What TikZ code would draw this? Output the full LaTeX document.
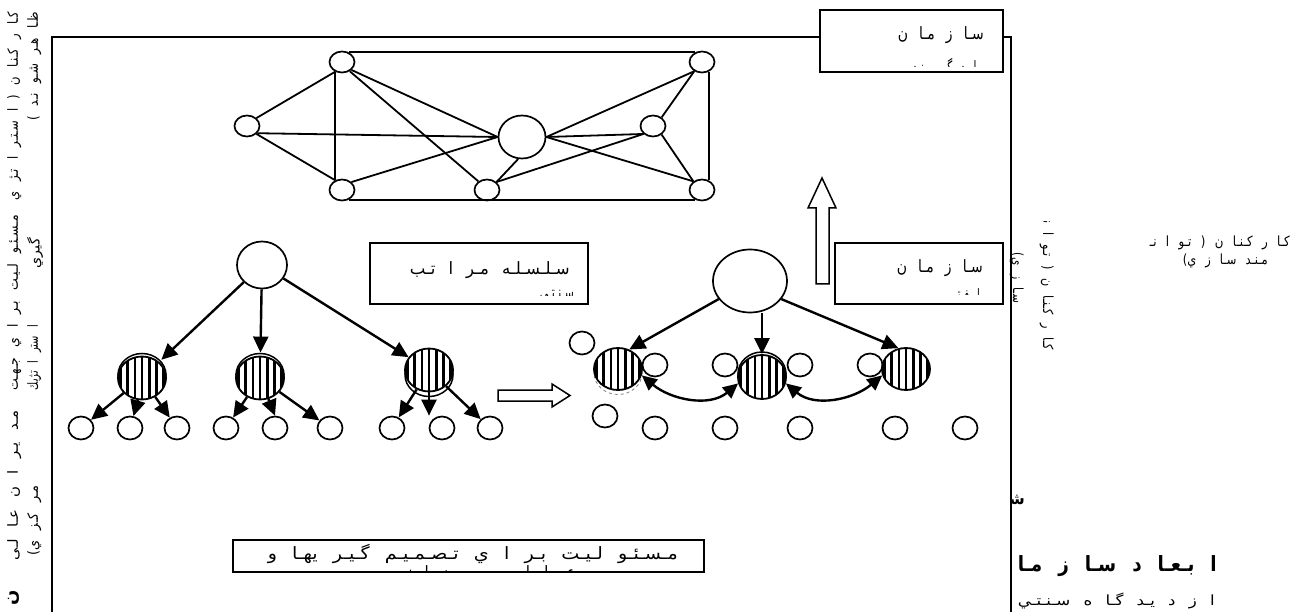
\documentclass[tikz,border=0pt]{standalone}
\usepackage{fontspec}
\usetikzlibrary{shapes.geometric,arrows.meta,calc}
\newfontfamily\arfont[Script=Arabic,WordSpace=2.5]{DejaVu Sans}
\TeXXeTstate=1
\newcommand{\wtxt}[2]{\resizebox{#1}{\height}{#2}}
\begin{document}
\begin{tikzpicture}[x=1pt,y=-1pt,
  netc/.style={ellipse,draw,line width=1.7pt,fill=white,inner sep=0pt,minimum width=25pt,minimum height=21pt},
  smc/.style={ellipse,draw,line width=1.7pt,fill=white,inner sep=0pt,minimum width=25pt,minimum height=23pt},
  bigc/.style={ellipse,draw,line width=1.7pt,fill=white,inner sep=0pt},
  stc/.style={ellipse,draw,line width=1.8pt,fill=white,inner sep=0pt,minimum width=48pt,minimum height=43pt,
    path picture={\foreach \k in {-3,...,3}{\fill[black] ($(path picture bounding box.center)+(\k*7.2-1.3,-30)$) rectangle ($(path picture bounding box.center)+(\k*7.2+1.3,30)$);}}},
  shd/.style={line width=1.5pt,fill=white},
  arr/.style={line width=2.4pt,-{Triangle[length=16pt,width=15pt]}},
  darr/.style={line width=2.4pt,{Triangle[length=15pt,width=14pt]}-{Triangle[length=15pt,width=14pt]}},
  netl/.style={line width=1.8pt},
  tbox/.style={draw,line width=1.6pt,fill=white,inner sep=0pt},
  at1/.style={font=\arfont\fontsize{17}{19}\selectfont,inner sep=0pt},
  vt/.style={font=\arfont\fontsize{14}{16}\selectfont,inner sep=0pt},
  bt/.style={font=\arfont\fontsize{21}{23}\selectfont\bfseries,inner sep=0pt}]
\useasboundingbox (0,0) rectangle (1301,612);
\clip (0,0) rectangle (1301,612);
\fill[white] (0,0) rectangle (1301,612);

% frame
\draw[line width=1.7pt] (52,612) -- (52,37) -- (820,37);
\draw[line width=1.7pt] (1003,37) -- (1011,37) -- (1011,612);

% ===== network =====
\node[netc] (TL) at (342,62) {};
\node[netc] (L) at (247,126) {};
\node[netc] (BL) at (342,190) {};
\node[bigc,minimum width=47pt,minimum height=43pt] (C) at (522,137) {};
\node[netc] (BM) at (487,190) {};
\node[netc] (R) at (653,126) {};
\node[netc] (TR) at (702,62) {};
\node[netc] (BR) at (702,190) {};
\draw[netl] (TL.55) -- (TR.125);
\draw[netl] (BL.-55) -- (BR.-125);
\draw[netl] (TL.-125) -- (BL.125);
\draw[netl] (TR.-55) -- (BR.55);
\draw[netl] (L.40) -- (TL.-125);
\draw[netl] (L.-40) -- (BL.125);
\draw[netl] (L.-35) -- (C.west);
\draw[netl] (TL.-40) -- (C.west);
\draw[netl] (TL.-50) -- (BM.135);
\draw[netl] (BL.40) -- (C.west);
\draw[netl] (C.-100) -- (BM.40);
\draw[netl] (BM.40) -- (R.-140);
\draw[netl] (C.east) -- (TR.-130);
\draw[netl] (C.east) -- (R.-140);
\draw[netl] (C.east) -- (BR.135);
\draw[netl] (R.45) -- (TR.-130);
\draw[netl] (R.-45) -- (BR.135);

% ===== left hierarchy =====
\node[bigc,minimum width=50pt,minimum height=47pt] (T1) at (262,265) {};
\coordinate (s1) at (142,378);
\coordinate (s2) at (260,378);
\coordinate (s3) at (429,370);
\draw[shd] ($(s1)+(0,-3)$) ellipse (24 and 21.5);
\draw[shd] ($(s2)+(0,-3)$) ellipse (24 and 21.5);
\draw[shd] ($(s3)+(0,5)$) ellipse (24 and 21.5);
\node[stc] (S1) at (s1) {};
\node[stc] (S2) at (s2) {};
\node[stc] (S3) at (s3) {};
\foreach \n/\x in {b1/81,b2/130,b3/177,b4/226,b5/275,b6/330,b7/392,b8/442,b9/490}
  \node[smc] (\n) at (\x,428) {};
\draw[arr,shorten >=3pt] (T1) -- (S1);
\draw[arr,shorten >=3pt] (T1) -- (S2);
\draw[arr] (T1) -- (S3);
\draw[arr] (S1) -- (b1);
\draw[arr] (S1.-100) -- (b2);
\draw[arr] (S1) -- (b3);
\draw[arr] (S2) -- (b4);
\draw[arr] (S2) -- (b5.north);
\draw[arr] (S2) -- (b6);
\draw[arr] (S3) -- (b7);
\draw[arr] (S3.south) -- (S3.south |- b8.north);
\draw[arr] (S3) -- (b9);

% hollow right arrow
\draw[line width=1.5pt,fill=white] (498,390) -- (552,390) -- (552,384) -- (570,395.5) -- (552,407) -- (552,401) -- (498,401) -- cycle;

% ===== right (horizontal) organisation =====
\node[bigc,minimum width=74pt,minimum height=63pt] (T2) at (750,281) {};
\coordinate (s4) at (618,369);
\coordinate (s5) at (762,377);
\coordinate (s6) at (906,369);
\draw[line width=0.8pt,gray,dashed] ($(s4)+(0,4)$) ellipse (24 and 21.5);
\draw[shd] ($(s5)+(0,-3)$) ellipse (24 and 22);
\node[smc] (ca) at (655,365) {};
\node[smc] (cb) at (725,365) {};
\node[smc] (cc) at (800,365) {};
\node[smc] (cd) at (870,365) {};
\node[smc] (ce) at (582,343) {};
\node[smc] (cf) at (605,416) {};
\node[stc,minimum height=42pt] (S4) at (s4) {};
\node[stc,minimum height=44pt] (S5) at (s5) {};
\node[stc,minimum height=42pt] (S6) at (s6) {};
\foreach \n/\x in {r1/655,r2/725,r3/800,r4/895,r5/965}
  \node[smc] (\n) at (\x,428) {};
\draw[arr] (T2.-150) -- (S4.60);
\draw[arr] (S5 |- T2.south) -- (S5.north);
\draw[arr] (T2.-30) -- (S6.110);
\draw[darr] (S4.-15) to[out=-40,in=-140] (S5.-165);
\draw[darr] (S5.-15) to[out=-40,in=-140] (S6.-165);

% hollow up arrow
\draw[line width=1.5pt,fill=white] (816,284) -- (816,208) -- (808,208) -- (822,178) -- (836,208) -- (829,208) -- (829,284) -- cycle;

% ===== text boxes =====
\node[tbox,minimum width=183pt,minimum height=62pt] (B1) at (911.5,41) {};
\node[at1,anchor=east] (B1a) at (984,35) {\wtxt{86pt}{\beginR سـا ز مـا ن\endR}};
\begin{scope}
\clip (820,10) rectangle (1003,67);
\node[at1,anchor=north east] (B1b) at (983,58) {\wtxt{84pt}{\beginR يـا د گـيـر نـد ه\endR}};
\end{scope}

\node[tbox,minimum width=218pt,minimum height=61pt] (B2) at (479,273.5) {};
\node[at1,anchor=east] (B2a) at (570,270) {\wtxt{160pt}{\beginR سـلـسـلـه   مـر ا تـب\endR}};
\begin{scope}
\clip (370,243) rectangle (588,296);
\node[at1,anchor=north east] (B2b) at (574,290) {\wtxt{34pt}{\beginR سـنـتـي\endR}};
\end{scope}

\node[tbox,minimum width=168pt,minimum height=61pt] (B3) at (919,273.5) {};
\node[at1,anchor=east] (B3a) at (983,268) {\wtxt{86pt}{\beginR سـا ز مـا ن\endR}};
\begin{scope}
\clip (835,243) rectangle (1003,295);
\node[at1,anchor=north east] (B3b) at (980,288) {\wtxt{34pt}{\beginR ا فـقـي\endR}};
\end{scope}

\node[tbox,minimum width=471pt,minimum height=32pt] (B4) at (468.5,556) {};
\node[at1,anchor=east] (B4a) at (678,554) {\wtxt{410pt}{\beginR مـسـئـو لـيـت   بـر ا ي   تـصـمـيـم   گـيـر يهـا   و\endR}};
\begin{scope}
\clip (233,540) rectangle (704,571);
\node[at1,anchor=north east] (B4b) at (576,565) {\wtxt{180pt}{\beginR عـمـلـيـا ت   ر و ز ا نـه\endR}};
\end{scope}

% ===== left vertical labels =====
\node[vt,rotate=90,anchor=north east] (V1) at (7,12) {\wtxt{188pt}{\beginR کـا ر کـنـا ن   ( ا سـتـر ا تـژ ي\endR}};
\node[vt,rotate=90,anchor=north east] (V2) at (7,215) {\wtxt{175pt}{\beginR مـسـئـو لـيـت   بـر ا ي   جـهـت\endR}};
\node[vt,rotate=90,anchor=north east] (V3) at (7,410) {\wtxt{150pt}{\beginR مـد يـر ا ن   عـا لـی\endR}};
\node[vt,rotate=90,anchor=north east] (V4) at (27,12) {\wtxt{108pt}{\beginR ظـا هـر   شـو نـد )\endR}};
\node[vt,rotate=90,anchor=north east] (V5) at (27,238) {\wtxt{30pt}{\beginR گيري\endR}};
\node[vt,rotate=90,anchor=north east] (V6) at (27,325) {\wtxt{65pt}{\beginR ا ستر ا تژيك\endR}};
\node[vt,rotate=90,anchor=north east] (V7) at (27,485) {\wtxt{70pt}{\beginR مـر كـز ي)\endR}};
\node[bt,font=\arfont\fontsize{18}{20}\selectfont\bfseries,rotate=90,anchor=north east] (V8) at (8,590) {\beginR ن\endR};

% ===== right vertical label =====
\begin{scope}
\clip (1005,222) rectangle (1065,370);
\node[vt,rotate=-90,anchor=north east] (W1) at (1054,350) {\wtxt{155pt}{\beginR کـا ر کـنـا ن ( تـو ا نـمـنـد\endR}};
\node[vt,rotate=-90,anchor=north] (W2) at (1024,278) {\wtxt{50pt}{\beginR سـا ز ي)\endR}};
\end{scope}

% ===== right side texts =====
\node[vt,anchor=east] (H1) at (1290,243) {\wtxt{140pt}{\beginR کـا ر کـنـا ن ( تـو ا نـ\endR}};
\node[vt,anchor=east] (H2) at (1268,261) {\wtxt{85pt}{\beginR مـنـد   سـا ز ي)\endR}};
\begin{scope}
\clip (1012.5,440) rectangle (1301,612);
\node[bt,font=\arfont\fontsize{16}{18}\selectfont\bfseries,anchor=east] (H3) at (1025,500) {\beginR شـكـل\endR};
\node[bt,anchor=east] (H4) at (1217,566) {\wtxt{199pt}{\beginR ا بـعـا د   سـا ز مـا\endR}};
\node[vt,anchor=north east] (H5) at (1215,593) {\wtxt{197pt}{\beginR ا ز   د يـد گـا ه   سـنـتـي\endR}};
\end{scope}
\end{tikzpicture}
\end{document}
